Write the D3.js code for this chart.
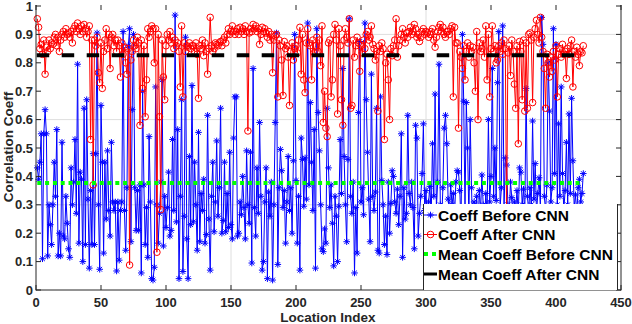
<!DOCTYPE html>
<html><head><meta charset="utf-8">
<script src="https://d3js.org/d3.v7.min.js"></script>
<style>body{margin:0;background:#fff}svg{display:block}</style>
</head><body>
<svg id="c" width="632" height="324"></svg>
<script>
const xTicks = [0,50,100,150,200,250,300,350,400,450];
const yTicks = [0,0.1,0.2,0.3,0.4,0.5,0.6,0.7,0.8,0.9,1];
const yTickLabels = ["0","0.1","0.2","0.3","0.4","0.5","0.6","0.7","0.8","0.9","1"];
const xGrid = [150,300];
const yGrid = [0.3,0.6,0.9];
const seriesNames = ["Coeff Before CNN","Coeff After CNN","Mean Coeff Before CNN","Mean Coeff After CNN"];
const meanBefore = 0.377;
const meanAfter = 0.827;
const coeffBefore = [
0.43,0.39,0.45,0.55,0.11,0.55,0.635,0.55,0.12,0.30,0.23,0.16,0.30,0.45,0.33,0.565,0.12,0.20,0.12,0.52,
0.19,0.18,0.33,0.235,0.145,0.115,0.43,0.30,0.38,0.53,0.27,0.795,0.165,0.415,0.39,0.10,0.64,0.16,0.67,0.32,
0.077,0.35,0.16,0.48,0.16,0.48,0.905,0.30,0.073,0.65,0.45,0.13,0.45,0.25,0.49,0.28,0.19,0.52,0.31,0.28,
0.31,0.067,0.31,0.105,0.28,0.31,0.91,0.28,0.14,0.36,0.86,0.92,0.17,0.635,0.90,0.36,0.21,0.35,0.21,0.37,
0.06,0.70,0.37,0.16,0.29,0.115,0.54,0.31,0.04,0.035,0.08,0.715,0.30,0.165,0.27,0.38,0.74,0.155,0.33,0.22,
0.29,0.415,0.19,0.21,0.53,0.28,0.968,0.24,0.565,0.04,0.33,0.67,0.065,0.26,0.89,0.18,0.04,0.47,0.23,0.72,
0.24,0.45,0.30,0.14,0.555,0.17,0.34,0.28,0.39,0.165,0.195,0.615,0.25,0.07,0.33,0.45,0.205,0.31,0.525,0.26,
0.36,0.64,0.20,0.245,0.45,0.205,0.34,0.22,0.485,0.23,0.18,0.535,0.68,0.68,0.19,0.20,0.31,0.265,0.40,0.29,
0.18,0.49,0.30,0.235,0.485,0.095,0.78,0.29,0.19,0.43,0.27,0.59,0.33,0.07,0.10,0.31,0.43,0.04,0.345,0.26,
0.38,0.035,0.30,0.59,0.905,0.09,0.36,0.495,0.42,0.29,0.35,0.165,0.31,0.47,0.28,0.36,0.20,0.455,0.90,0.385,
0.165,0.33,0.07,0.535,0.46,0.295,0.465,0.32,0.94,0.37,0.66,0.45,0.28,0.565,0.077,0.92,0.625,0.49,0.30,0.145,
0.135,0.215,0.165,0.64,0.43,0.29,0.37,0.235,0.085,0.33,0.26,0.10,0.295,0.53,0.34,0.78,0.47,0.30,0.17,0.46,
0.955,0.33,0.27,0.38,0.06,0.29,0.13,0.625,0.875,0.31,0.36,0.265,0.94,0.67,0.485,0.32,0.17,0.76,0.33,0.28,
0.345,0.64,0.14,0.13,0.68,0.385,0.30,0.16,0.26,0.125,0.38,0.20,0.305,0.42,0.40,0.31,0.27,0.355,0.23,0.33,
0.55,0.115,0.36,0.25,0.27,0.615,0.34,0.30,0.38,0.29,0.145,0.58,0.535,0.19,0.27,0.33,0.41,0.585,0.28,0.35,
0.22,0.31,0.365,0.26,0.515,0.33,0.69,0.29,0.38,0.795,0.30,0.24,0.36,0.57,0.615,0.515,0.32,0.28,0.37,0.30,
0.34,0.27,0.38,0.42,0.415,0.35,0.22,0.90,0.665,0.28,0.66,0.50,0.25,0.60,0.36,0.20,0.31,0.26,0.33,0.22,
0.35,0.28,0.405,0.30,0.24,0.34,0.27,0.60,0.31,0.40,0.78,0.33,0.50,0.315,0.73,0.91,0.29,0.36,0.93,0.28,
0.465,0.44,0.30,0.26,0.38,0.325,0.24,0.31,0.29,0.35,0.27,0.43,0.415,0.30,0.355,0.26,0.71,0.33,0.28,0.36,
0.30,0.595,0.32,0.445,0.27,0.34,0.395,0.29,0.96,0.865,0.33,0.28,0.37,0.80,0.63,0.31,0.36,0.92,0.41,0.865,
0.30,0.585,0.33,0.715,0.41,0.28,0.35,0.52,0.30,0.62,0.34,0.675,0.455,0.29,0.335,0.27,0.36,0.39,0.31,0.34,0.41];
const coeffAfter = [
0.955,0.925,0.85,0.865,0.83,0.88,0.76,0.855,0.84,0.88,0.85,0.87,0.865,0.89,0.90,0.86,0.89,0.84,0.88,0.90,
0.91,0.89,0.92,0.90,0.905,0.89,0.91,0.87,0.92,0.93,0.91,0.94,0.92,0.90,0.93,0.91,0.935,0.92,0.89,0.91,
0.93,0.53,0.88,0.37,0.88,0.86,0.89,0.765,0.73,0.87,0.71,0.84,0.88,0.92,0.85,0.90,0.78,0.89,0.90,0.86,
0.88,0.84,0.88,0.86,0.75,0.87,0.83,0.855,0.80,0.76,0.85,0.088,0.81,0.84,0.88,0.86,0.85,0.89,0.87,0.58,
0.88,0.71,0.86,0.61,0.74,0.92,0.89,0.91,0.93,0.92,0.80,0.92,0.133,0.90,0.61,0.283,0.88,0.75,0.67,0.86,
0.90,0.88,0.91,0.87,0.89,0.85,0.88,0.86,0.87,0.84,0.715,0.93,0.68,0.87,0.84,0.86,0.855,0.87,0.85,0.86,
0.86,0.84,0.87,0.83,0.675,0.86,0.85,0.88,0.825,0.87,0.84,0.76,0.85,0.96,0.86,0.84,0.85,0.87,0.865,0.86,
0.87,0.875,0.86,0.88,0.89,0.87,0.90,0.92,0.90,0.91,0.93,0.91,0.90,0.91,0.92,0.90,0.925,0.91,0.92,0.90,
0.93,0.91,0.56,0.905,0.92,0.91,0.935,0.92,0.93,0.91,0.92,0.865,0.90,0.925,0.91,0.92,0.905,0.89,0.91,0.88,
0.90,0.765,0.88,0.895,0.90,0.68,0.88,0.86,0.81,0.685,0.875,0.85,0.86,0.82,0.65,0.84,0.87,0.81,0.85,0.86,
0.835,0.88,0.925,0.76,0.90,0.74,0.695,0.87,0.92,0.87,0.86,0.74,0.88,0.835,0.86,0.89,0.84,0.88,0.79,0.93,
0.59,0.70,0.57,0.54,0.87,0.88,0.68,0.74,0.90,0.935,0.88,0.62,0.92,0.86,0.67,0.58,0.88,0.92,0.89,0.87,
0.955,0.64,0.65,0.88,0.82,0.86,0.89,0.87,0.77,0.86,0.835,0.88,0.85,0.90,0.91,0.88,0.89,0.93,0.865,0.85,
0.81,0.84,0.63,0.86,0.84,0.87,0.85,0.53,0.80,0.83,0.74,0.60,0.85,0.825,0.86,0.88,0.955,0.82,0.86,0.88,
0.90,0.92,0.89,0.87,0.905,0.89,0.91,0.925,0.90,0.91,0.935,0.92,0.89,0.90,0.875,0.89,0.91,0.92,0.90,0.91,
0.905,0.89,0.90,0.91,0.92,0.88,0.855,0.89,0.91,0.925,0.935,0.91,0.925,0.90,0.89,0.91,0.91,0.90,0.92,0.93,
0.68,0.925,0.87,0.87,0.57,0.84,0.82,0.78,0.86,0.74,0.84,0.87,0.82,0.86,0.84,0.855,0.80,0.70,0.91,0.60,
0.87,0.84,0.85,0.88,0.82,0.93,0.74,0.90,0.68,0.85,0.93,0.84,0.86,0.80,0.81,0.86,0.84,0.87,0.83,0.88,
0.85,0.25,0.835,0.86,0.755,0.88,0.84,0.725,0.64,0.86,0.515,0.875,0.84,0.67,0.88,0.63,0.87,0.64,0.90,0.905,
0.88,0.66,0.89,0.92,0.95,0.90,0.87,0.96,0.89,0.84,0.78,0.64,0.83,0.80,0.75,0.82,0.77,0.84,0.81,0.86,
0.68,0.83,0.85,0.82,0.865,0.83,0.84,0.745,0.85,0.83,0.86,0.88,0.715,0.84,0.82,0.855,0.83,0.79,0.84,0.835,0.86];

const svg = d3.select("#c");
const FONT = "Arial, 'Liberation Sans', Helvetica, sans-serif";
const x = d3.scaleLinear().domain([0,450]).range([36,621]);
const y = d3.scaleLinear().domain([0,1]).range([290,6]);
const idx = coeffBefore.map((d,i)=>i+1);

// grid
const g0 = svg.append("g");
g0.selectAll("line.gx").data(xGrid).join("line")
  .attr("x1",d=>x(d)).attr("x2",d=>x(d)).attr("y1",y(1)).attr("y2",y(0))
  .attr("stroke","#dedede").attr("stroke-width",1);
g0.selectAll("line.gy").data(yGrid).join("line")
  .attr("x1",x(0)).attr("x2",x(450)).attr("y1",d=>y(d)).attr("y2",d=>y(d))
  .attr("stroke","#dedede").attr("stroke-width",1);

const line = d3.line().x((d,i)=>x(idx[i])).y(d=>y(d));

// blue series
svg.append("path").attr("d",line(coeffBefore)).attr("fill","none")
  .attr("stroke","#0000ff").attr("stroke-width",1).attr("stroke-linejoin","round");
const star = (s)=>{const a=s, b=s*0.72;return `M${-a},0L${a},0M0,${-a}L0,${a}M${-b},${-b}L${b},${b}M${-b},${b}L${b},${-b}`;};
svg.append("g").selectAll("path").data(coeffBefore).join("path")
  .attr("transform",(d,i)=>`translate(${x(idx[i])},${y(d)})`)
  .attr("d",star(3.3)).attr("stroke","#0000ff").attr("stroke-width",1).attr("fill","none");

// red series
svg.append("path").attr("d",line(coeffAfter)).attr("fill","none")
  .attr("stroke","#ff0000").attr("stroke-width",1).attr("stroke-linejoin","round");
svg.append("g").selectAll("circle").data(coeffAfter).join("circle")
  .attr("cx",(d,i)=>x(idx[i])).attr("cy",d=>y(d)).attr("r",3.3)
  .attr("fill","none").attr("stroke","#ff0000").attr("stroke-width",1);

// mean lines
svg.append("line").attr("x1",x(1)).attr("x2",x(coeffBefore.length)).attr("y1",y(meanBefore)).attr("y2",y(meanBefore))
  .attr("stroke","#00ff00").attr("stroke-width",4).attr("stroke-dasharray","4,3.8");
svg.append("line").attr("x1",x(1)-0.6).attr("x2",x(coeffAfter.length)).attr("y1",y(meanAfter)).attr("y2",y(meanAfter))
  .attr("stroke","#000").attr("stroke-width",4).attr("stroke-dasharray","12.5,12.5");

// axes
const axCol = "#262626";
const ax = svg.append("g");
ax.append("line").attr("x1",x(0)).attr("x2",x(0)).attr("y1",y(1)-1).attr("y2",y(0)+0.5).attr("stroke",axCol);
ax.append("line").attr("x1",x(0)).attr("x2",x(450)).attr("y1",y(0)).attr("y2",y(0)).attr("stroke",axCol);
ax.append("line").attr("x1",x(450)).attr("x2",x(450)).attr("y1",y(1)-1).attr("y2",y(0)+0.5).attr("stroke",axCol);
ax.selectAll("line.xt").data(xTicks).join("line").attr("x1",d=>x(d)).attr("x2",d=>x(d))
  .attr("y1",y(0)).attr("y2",y(0)-5).attr("stroke",axCol);
ax.selectAll("line.xtt").data(xTicks).join("line").attr("x1",d=>x(d)).attr("x2",d=>x(d))
  .attr("y1",y(1)-1).attr("y2",y(1)+4).attr("stroke",axCol);
ax.selectAll("line.yt").data(yTicks).join("line").attr("x1",x(0)).attr("x2",x(0)+5)
  .attr("y1",d=>y(d)).attr("y2",d=>y(d)).attr("stroke",axCol);
ax.selectAll("line.ytr").data(yTicks).join("line").attr("x1",x(450)).attr("x2",x(450)-5)
  .attr("y1",d=>y(d)).attr("y2",d=>y(d)).attr("stroke",axCol);
ax.selectAll("text.xl").data(xTicks).join("text").attr("x",d=>x(d)).attr("y",307)
  .attr("text-anchor","middle").attr("font-family",FONT).attr("font-weight","bold")
  .attr("font-size","13px").attr("fill",axCol).text(d=>d);
ax.selectAll("text.yl").data(yTicks).join("text").attr("x",x(0)-3).attr("y",d=>y(d)+4.5)
  .attr("text-anchor","end").attr("font-family",FONT).attr("font-weight","bold")
  .attr("font-size","13px").attr("fill",axCol).text((d,i)=>yTickLabels[i]);

svg.append("text").attr("x",328).attr("y",322).attr("text-anchor","middle")
  .attr("font-family",FONT).attr("font-weight","bold").attr("font-size","13.5px").attr("fill",axCol)
  .text("Location Index");
svg.append("text").attr("transform","translate(13,147) rotate(-90)").attr("text-anchor","middle")
  .attr("font-family",FONT).attr("font-weight","bold").attr("font-size","13.5px").attr("fill",axCol)
  .text("Correlation Coeff");

// legend
const lg = svg.append("g");
lg.append("rect").attr("x",423).attr("y",204).attr("width",194).attr("height",86).attr("fill","#fff");
lg.append("line").attr("x1",423.5).attr("x2",423.5).attr("y1",204).attr("y2",290).attr("stroke",axCol);
lg.append("line").attr("x1",617.5).attr("x2",617.5).attr("y1",204).attr("y2",290).attr("stroke",axCol);
const rows = [215,234.5,254,274];
lg.append("line").attr("x1",424).attr("x2",437).attr("y1",rows[0]).attr("y2",rows[0]).attr("stroke","#0000ff");
lg.append("path").attr("transform",`translate(430.5,${rows[0]})`).attr("d",star(3.3)).attr("stroke","#0000ff").attr("fill","none");
lg.append("line").attr("x1",424).attr("x2",437).attr("y1",rows[1]).attr("y2",rows[1]).attr("stroke","#ff0000");
lg.append("circle").attr("cx",430.5).attr("cy",rows[1]).attr("r",3.3).attr("stroke","#ff0000").attr("fill","none");
lg.append("line").attr("x1",424).attr("x2",437).attr("y1",rows[2]).attr("y2",rows[2])
  .attr("stroke","#00ff00").attr("stroke-width",4).attr("stroke-dasharray","4,4");
lg.append("line").attr("x1",424).attr("x2",437).attr("y1",rows[3]).attr("y2",rows[3])
  .attr("stroke","#000").attr("stroke-width",3);
lg.selectAll("text").data(seriesNames).join("text").attr("x",438).attr("y",(d,i)=>rows[i]+5.5)
  .attr("font-family",FONT).attr("font-weight","bold").attr("font-size","15.5px").attr("fill","#000")
  .text(d=>d);
</script>
</body></html>
